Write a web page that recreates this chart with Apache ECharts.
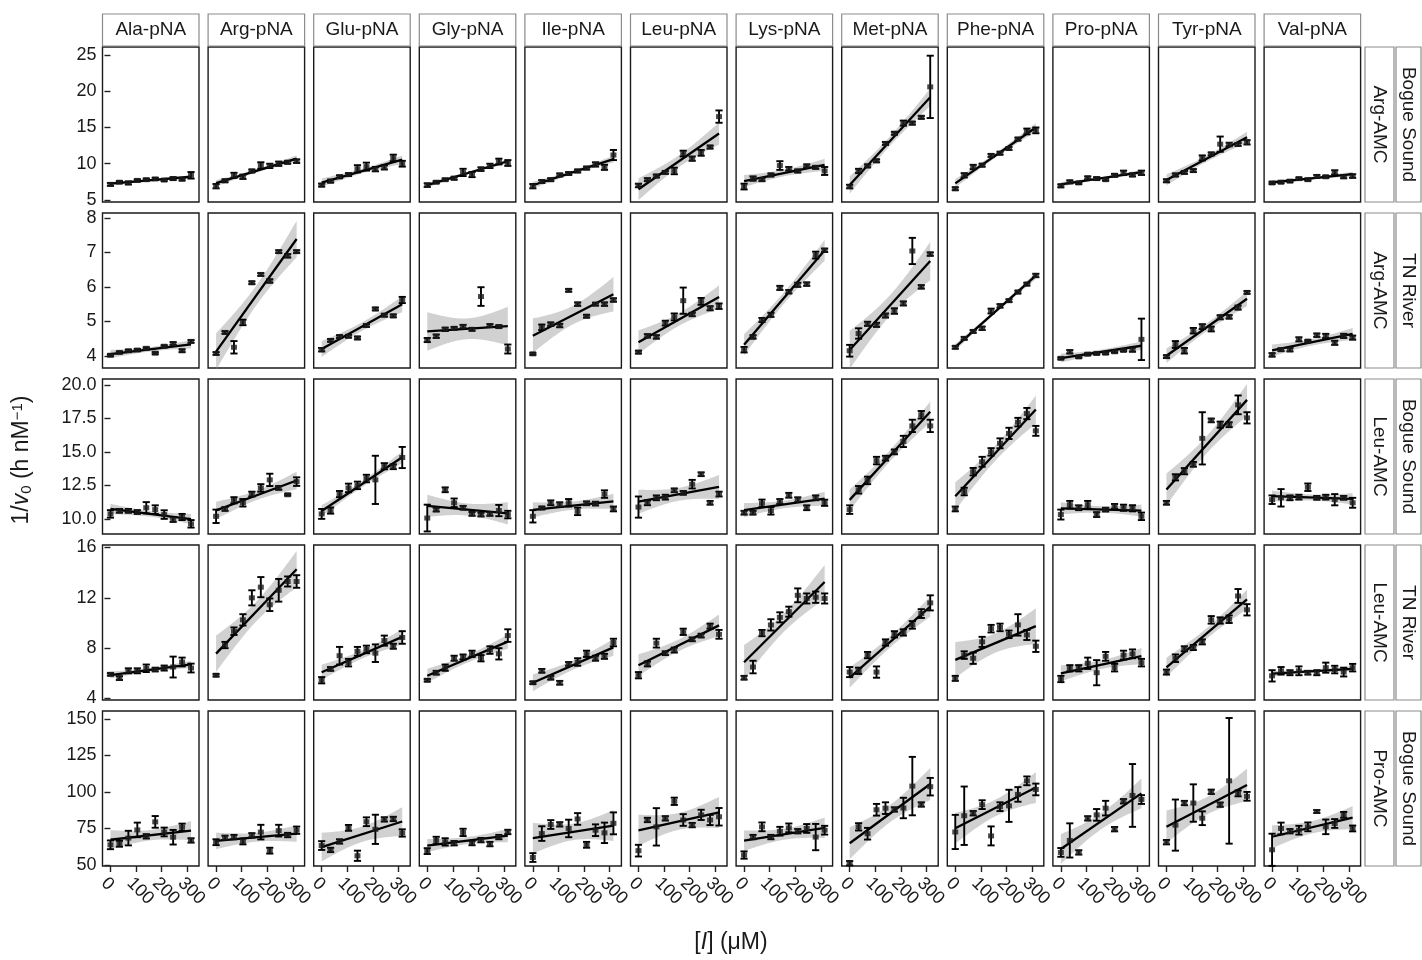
<!DOCTYPE html>
<html><head><meta charset="utf-8">
<script src="https://cdn.jsdelivr.net/npm/echarts@6/dist/echarts.min.js"></script>
<style>html,body{margin:0;padding:0;background:#fff}#c{width:1422px;height:960px}</style>
</head><body><div id="c"></div>
<script>
// ---------------- data ----------------
const substrates = ['Ala-pNA','Arg-pNA','Glu-pNA','Gly-pNA','Ile-pNA','Leu-pNA','Lys-pNA','Met-pNA','Phe-pNA','Pro-pNA','Tyr-pNA','Val-pNA'];
const rowEnzymes = ['Arg-AMC','Arg-AMC','Leu-AMC','Leu-AMC','Pro-AMC'];
const rowSites = ['Bogue Sound','TN River','Bogue Sound','TN River','Bogue Sound'];
const conc = [0,35,70,105,140,175,210,245,280,315];
const xTicks = [0,100,200,300];
const yTicksRow1 = [5,10,15,20,25];
const yTicksRow2 = [4,5,6,7,8];
const yTicksRow3 = [10,12.5,15,17.5,20];
const yTicksRow4 = [4,8,12,16];
const yTicksRow5 = [50,75,100,125,150];

// Row 1: Arg-AMC, Bogue Sound (means, sd) — one array per substrate column
const meanArgBogue = [
 [7.15,7.45,7.35,7.7,7.8,7.9,7.75,7.95,7.85,8.4],
 [6.9,7.65,8.4,8.2,9.0,9.75,9.7,10.0,10.2,10.35],
 [7.05,7.6,8.2,8.5,9.3,9.6,9.25,9.5,10.8,10.0],
 [7.05,7.45,7.8,8.0,8.8,8.5,9.25,9.7,10.3,10.1],
 [6.9,7.55,7.8,8.45,8.65,9.0,9.4,9.9,9.5,11.2],
 [7.0,7.8,8.3,8.8,9.0,11.4,10.7,11.5,12.3,16.5],
 [6.85,7.95,7.8,8.45,9.75,9.3,9.0,9.7,9.5,9.0],
 [6.85,9.0,9.7,10.4,12.8,14.2,15.6,15.6,16.4,20.6],
 [6.55,8.4,9.55,9.8,11.15,11.45,12.1,13.4,14.45,14.6],
 [6.95,7.5,7.35,8.05,7.95,7.8,8.4,8.75,8.45,8.75],
 [7.65,8.45,8.8,9.05,10.8,11.35,12.7,12.65,12.65,12.95],
 [7.35,7.45,7.6,7.95,7.8,8.25,8.2,8.8,8.2,8.3]
];
const sdArgBogue = [
 [0.2,0.15,0.2,0.15,0.15,0.15,0.15,0.2,0.15,0.45],
 [0.3,0.2,0.35,0.3,0.2,0.45,0.3,0.3,0.2,0.25],
 [0.2,0.2,0.2,0.2,0.5,0.55,0.3,0.3,0.45,0.4],
 [0.25,0.15,0.15,0.2,0.5,0.35,0.25,0.3,0.4,0.4],
 [0.3,0.2,0.2,0.2,0.2,0.2,0.2,0.3,0.35,0.7],
 [0.25,0.2,0.2,0.2,0.45,0.4,0.3,0.4,0.2,0.85],
 [0.4,0.3,0.2,0.2,0.6,0.25,0.2,0.2,0.2,0.55],
 [0.25,0.3,0.2,0.2,0.2,0.2,0.35,0.2,0.2,4.3],
 [0.2,0.3,0.3,0.2,0.2,0.2,0.2,0.2,0.4,0.4],
 [0.2,0.2,0.15,0.2,0.2,0.15,0.2,0.3,0.2,0.3],
 [0.2,0.2,0.2,0.2,0.35,0.2,1.05,0.25,0.2,0.3],
 [0.15,0.15,0.15,0.15,0.15,0.2,0.15,0.3,0.2,0.25]
];
// Row 2: Arg-AMC, TN River
const meanArgTN = [
 [4.02,4.1,4.15,4.17,4.22,4.08,4.28,4.36,4.15,4.42],
 [4.07,4.68,4.25,4.97,6.12,6.36,6.17,7.02,6.9,7.02],
 [4.18,4.45,4.56,4.57,4.52,4.88,5.36,5.18,5.16,5.62],
 [4.46,4.57,4.77,4.8,4.85,4.77,5.72,4.88,4.85,4.2],
 [4.06,4.83,4.92,4.88,5.9,5.5,5.15,5.5,5.5,5.62],
 [4.11,4.58,4.55,4.95,5.13,5.6,5.2,5.58,5.38,5.44],
 [4.18,4.55,5.04,5.19,5.97,5.86,6.06,6.08,6.92,7.06],
 [4.15,4.65,4.93,4.9,5.17,5.3,5.52,7.04,6.0,6.95],
 [4.25,4.51,4.71,4.8,5.3,5.45,5.6,5.85,6.08,6.33],
 [3.93,4.12,3.97,4.05,4.07,4.08,4.12,4.16,4.18,4.48],
 [3.98,4.33,4.15,4.73,4.85,4.78,5.12,5.13,5.4,5.84],
 [4.03,4.18,4.18,4.48,4.43,4.6,4.58,4.38,4.58,4.53]
];
const sdArgTN = [
 [0.03,0.03,0.03,0.03,0.03,0.03,0.03,0.04,0.04,0.04],
 [0.04,0.04,0.18,0.08,0.04,0.04,0.05,0.04,0.05,0.04],
 [0.05,0.04,0.04,0.04,0.04,0.04,0.04,0.04,0.04,0.09],
 [0.06,0.05,0.05,0.04,0.05,0.04,0.27,0.04,0.04,0.13],
 [0.03,0.08,0.05,0.05,0.04,0.05,0.04,0.04,0.05,0.05],
 [0.04,0.05,0.05,0.07,0.1,0.38,0.05,0.1,0.06,0.08],
 [0.08,0.05,0.06,0.06,0.06,0.05,0.06,0.05,0.1,0.05],
 [0.17,0.15,0.06,0.06,0.06,0.08,0.06,0.38,0.05,0.05],
 [0.04,0.04,0.04,0.05,0.07,0.05,0.04,0.04,0.04,0.05],
 [0.03,0.05,0.03,0.03,0.03,0.03,0.03,0.03,0.06,0.6],
 [0.04,0.1,0.08,0.08,0.07,0.07,0.06,0.05,0.06,0.04],
 [0.05,0.04,0.05,0.06,0.03,0.05,0.06,0.06,0.06,0.06]
];
// Row 3: Leu-AMC, Bogue Sound
const meanLeuBogue = [
 [10.38,10.61,10.61,10.52,10.84,10.7,10.33,9.96,10.15,9.64],
 [10.2,10.75,11.4,11.21,11.86,12.32,12.92,12.32,11.81,12.79],
 [10.38,10.63,11.86,12.32,12.51,13.02,12.92,13.94,13.9,14.59],
 [10.07,10.7,12.18,11.21,10.84,10.38,10.33,10.38,10.63,10.33],
 [10.2,10.82,11.21,11.07,11.21,10.57,11.17,11.15,11.86,10.75],
 [10.89,11.21,11.58,11.63,12.14,11.95,12.6,13.34,11.21,11.86],
 [10.47,10.47,11.17,10.61,11.31,11.77,11.44,10.84,11.58,11.21],
 [10.7,12.18,12.88,14.36,14.54,15.01,15.79,16.95,17.78,16.95],
 [10.75,12.05,13.53,14.27,15.01,15.65,16.39,17.23,17.87,16.58],
 [10.33,11.07,10.84,11.07,10.33,10.7,10.94,10.84,10.8,10.2],
 [11.21,13.11,13.57,14.08,16.02,17.36,17.04,17.04,18.52,17.55],
 [11.44,11.58,11.58,11.63,12.37,11.58,11.63,11.44,11.58,11.21]
];
const sdLeuBogue = [
 [0.28,0.14,0.14,0.14,0.42,0.32,0.32,0.18,0.23,0.28],
 [0.5,0.14,0.23,0.28,0.18,0.28,0.46,0.14,0.07,0.32],
 [0.37,0.23,0.23,0.32,0.28,0.28,1.8,0.23,0.18,0.79],
 [1.0,0.14,0.18,0.32,0.14,0.14,0.14,0.14,0.42,0.28],
 [0.46,0.1,0.18,0.18,0.28,0.28,0.14,0.14,0.28,0.18],
 [0.79,0.18,0.18,0.18,0.14,0.14,0.32,0.14,0.14,0.18],
 [0.14,0.14,0.28,0.28,0.18,0.18,0.18,0.18,0.18,0.23],
 [0.32,0.28,0.28,0.28,0.18,0.18,0.42,0.46,0.28,0.46],
 [0.18,0.28,0.28,0.37,0.28,0.37,0.42,0.32,0.42,0.37],
 [0.37,0.28,0.18,0.28,0.18,0.14,0.18,0.23,0.23,0.28],
 [0.14,0.23,0.23,0.18,1.95,0.14,0.23,0.18,0.7,0.42],
 [0.32,0.65,0.18,0.18,0.28,0.14,0.18,0.42,0.14,0.37]
];
// Row 4: Leu-AMC, TN River
const meanLeuTN = [
 [5.92,5.62,6.2,6.2,6.4,6.3,6.42,6.5,6.9,6.42],
 [5.85,8.25,9.35,10.25,12.0,12.85,11.45,12.6,13.3,13.3],
 [5.45,6.35,7.4,6.85,7.75,7.9,7.6,8.6,8.15,8.85],
 [5.45,6.05,6.45,7.2,7.3,7.55,7.2,7.85,7.55,9.0],
 [5.25,6.2,5.65,5.25,6.75,6.9,7.55,7.2,7.35,8.45],
 [5.85,6.75,8.4,7.6,7.85,9.3,8.7,9.0,9.75,9.1],
 [5.65,6.5,9.2,9.85,10.45,10.9,12.2,11.95,12.05,11.95],
 [6.1,6.2,7.45,6.1,8.45,9.1,9.25,9.85,10.75,11.6],
 [5.6,7.45,7.2,8.5,9.55,9.65,9.1,9.85,9.05,8.15],
 [5.55,6.4,6.4,6.8,6.05,7.35,6.45,7.45,7.55,6.85],
 [6.1,7.2,7.95,8.05,8.5,10.25,10.2,10.3,12.15,11.05],
 [5.8,6.2,6.05,6.2,6.05,6.05,6.45,6.3,6.1,6.45]
];
const sdLeuTN = [
 [0.1,0.15,0.2,0.2,0.3,0.15,0.2,0.83,0.35,0.35],
 [0.1,0.25,0.3,0.45,0.6,0.8,0.5,0.9,0.4,0.5],
 [0.25,0.15,0.7,0.3,0.35,0.3,0.7,0.4,0.2,0.5],
 [0.1,0.15,0.25,0.2,0.2,0.25,0.25,0.3,0.45,0.5],
 [0.1,0.15,0.15,0.15,0.15,0.3,0.25,0.2,0.2,0.3],
 [0.25,0.2,0.35,0.15,0.2,0.25,0.15,0.15,0.2,0.35],
 [0.15,0.5,0.25,0.45,0.4,0.4,0.55,0.4,0.45,0.4],
 [0.4,0.25,0.25,0.45,0.25,0.25,0.25,0.3,0.35,0.6],
 [0.2,0.3,0.45,0.4,0.3,0.3,0.3,0.85,0.4,0.45],
 [0.25,0.25,0.25,0.45,1.0,0.35,0.3,0.35,0.35,0.3],
 [0.2,0.3,0.2,0.2,0.2,0.3,0.25,0.3,0.55,0.45],
 [0.45,0.3,0.2,0.35,0.15,0.2,0.4,0.3,0.35,0.3]
];
// Row 5: Pro-AMC, Bogue Sound
const meanProBogue = [
 [63.8,64.5,68.4,74.0,69.6,79.5,72.6,69.0,75.8,66.8],
 [65.6,68.6,69.1,66.1,70.3,72.5,59.8,73.5,70.5,73.8],
 [63.3,60.3,66.1,75.4,56.3,79.6,74.4,81.2,81.5,71.9],
 [59.5,66.8,65.8,64.9,72.3,65.0,67.0,64.3,69.1,72.6],
 [55.1,71.5,77.7,77.8,75.0,81.5,63.8,73.8,72.0,78.5],
 [59.8,80.8,76.1,81.9,93.6,80.8,77.3,84.3,80.8,83.0],
 [56.8,69.1,76.1,69.1,73.1,75.4,73.1,75.0,69.1,73.8],
 [51.2,76.1,71.4,87.8,88.9,88.0,89.0,104.0,91.4,103.6],
 [72.6,83.7,85.4,91.3,69.9,89.9,90.5,98.3,107.6,101.7],
 [58.6,66.8,58.6,81.9,84.3,88.9,74.5,93.6,97.6,94.8],
 [65.6,77.3,92.4,92.4,82.0,100.1,91.3,107.6,99.0,97.0],
 [60.4,75.0,73.1,73.8,76.1,86.6,76.1,78.4,84.3,75.0]
];
const sdProBogue = [
 [3,2,5,5,1.5,4,3,5,2.5,1.5],
 [2,1.5,1.5,2,1.5,5,2,4,1.5,2.5],
 [3,1.5,1.5,2,3.5,3,10,1.5,1.5,2.5],
 [2,2.5,2.5,1.5,2.5,1.5,1.5,1.5,1.5,1.5],
 [3,5,3,1.5,6,4,2,4,7,7.5],
 [4,1.5,12.8,1.5,2.5,4,1.5,3.5,3.5,6],
 [2.5,1.5,3,1.5,3,3,1.5,3,9,3],
 [1.5,2.5,4,4,4,1.5,7,20,1.5,6],
 [11.7,20,1.5,3,6.5,3,11,5,3,4],
 [3,11.7,1.5,1.5,4,5,1.5,1.5,21.5,3],
 [1.5,17.5,1.5,12.8,4.7,1.5,1.5,43,2,3],
 [11,4,1.5,3,3,1,5,3,2,2]
];

// ---------------- layout / styles ----------------
const rowMeans = [meanArgBogue, meanArgTN, meanLeuBogue, meanLeuTN, meanProBogue];
const rowSds = [sdArgBogue, sdArgTN, sdLeuBogue, sdLeuTN, sdProBogue];
const rowTicks = [yTicksRow1, yTicksRow2, yTicksRow3, yTicksRow4, yTicksRow5];
const rowRange = [[4.72,26.1],[3.65,8.14],[8.88,20.45],[3.88,16.2],[49.3,155.4]];
const X_MIN = -31.15, X_MAX = 346.15, CAP = 14;
const L0 = 102.5, LSTEP = 105.6, PW = 96.5;
const T0 = 47, TSTEP = 166, PH = 155;
const FONT = "'Liberation Sans', Arial, Helvetica, sans-serif";
const TXT = '#1a1a1a';

function lmFit(xs, ys) {
  const n = xs.length;
  const xb = xs.reduce((a,b)=>a+b,0)/n, yb = ys.reduce((a,b)=>a+b,0)/n;
  let sxx=0, sxy=0;
  for (let i=0;i<n;i++){ sxx+=(xs[i]-xb)**2; sxy+=(xs[i]-xb)*(ys[i]-yb); }
  const b = sxy/sxx, a = yb - b*xb;
  let sse=0; for (let i=0;i<n;i++){ const r = ys[i]-(a+b*xs[i]); sse+=r*r; }
  const s = Math.sqrt(sse/(n-2));
  const t = 2.306; // t(0.975, df = 8)
  const xmin = Math.min(...xs), xmax = Math.max(...xs);
  const band = [];
  for (let k=0;k<=80;k++){
    const x = xmin + (xmax-xmin)*k/80;
    const yh = a + b*x;
    const se = s*Math.sqrt(1/n + (x-xb)**2/sxx);
    band.push([x, yh - t*se, yh + t*se]);
  }
  return {a, b, band, xmin, xmax};
}

const grids=[], xAxes=[], yAxes=[], series=[];
for (let j=0;j<5;j++){
  for (let i=0;i<12;i++){
    const k = j*12+i;
    const ys = rowMeans[j][i], sds = rowSds[j][i];
    grids.push({left: L0+LSTEP*i, top: T0+TSTEP*j, width: PW, height: PH,
      show: true, borderColor: '#1a1a1a', borderWidth: 1.4, backgroundColor: '#fff', containLabel: false});
    xAxes.push({type:'value', gridIndex:k, min:X_MIN, max:X_MAX,
      axisLine:{show:false}, splitLine:{show:false},
      axisTick:{show:j===4, customValues:xTicks, length:6, lineStyle:{color:'#222', width:1.4}},
      axisLabel:{show:j===4, customValues:xTicks, rotate:-45, fontSize:18, color:TXT, fontFamily:FONT,
        margin:8, align:'left', verticalAlign:'top'}});
    yAxes.push({type:'value', gridIndex:k, min:rowRange[j][0], max:rowRange[j][1],
      axisLine:{show:false}, splitLine:{show:false},
      axisTick:{show:i===0, customValues:rowTicks[j], length:6, lineStyle:{color:'#222', width:1.4}},
      axisLabel:{show:i===0, customValues:rowTicks[j], fontSize:18, color:TXT, fontFamily:FONT, margin:6,
        formatter: (v)=> j===2 ? Number(v).toFixed(1) : String(v)}});
    const fit = lmFit(conc, ys);
    // confidence band
    series.push({type:'custom', xAxisIndex:k, yAxisIndex:k, silent:true, clip:false, z:1,
      data:[[fit.xmin, fit.a]],
      renderItem:(params, api)=>{
        if (params.dataIndex!==0) return null;
        const up = fit.band.map(p=>api.coord([p[0], p[2]]));
        const dn = fit.band.slice().reverse().map(p=>api.coord([p[0], p[1]]));
        return {type:'polygon', shape:{points: up.concat(dn)}, style:{fill:'rgba(153,153,153,0.45)', stroke:null}};
      }});
    // fitted line
    series.push({type:'line', xAxisIndex:k, yAxisIndex:k, silent:true, z:3,
      data:[[fit.xmin, fit.a+fit.b*fit.xmin],[fit.xmax, fit.a+fit.b*fit.xmax]],
      showSymbol:false, symbol:'none', lineStyle:{color:'#000', width:2.3}});
    // error bars
    series.push({type:'custom', xAxisIndex:k, yAxisIndex:k, silent:true, clip:false, z:4,
      data: conc.map((x,n)=>[x, ys[n], sds[n]]),
      renderItem:(params, api)=>{
        const x = api.value(0), m = api.value(1), s = api.value(2);
        const top = api.coord([x, m+s]), bot = api.coord([x, m-s]);
        const tl = api.coord([x-CAP, m+s]), tr = api.coord([x+CAP, m+s]);
        const bl = api.coord([x-CAP, m-s]), br = api.coord([x+CAP, m-s]);
        const st = {stroke:'#000', lineWidth:1.9};
        return {type:'group', children:[
          {type:'line', shape:{x1:top[0], y1:top[1], x2:bot[0], y2:bot[1]}, style:st},
          {type:'line', shape:{x1:tl[0], y1:tl[1], x2:tr[0], y2:tr[1]}, style:st},
          {type:'line', shape:{x1:bl[0], y1:bl[1], x2:br[0], y2:br[1]}, style:st}
        ]};
      }});
    // points
    series.push({type:'scatter', xAxisIndex:k, yAxisIndex:k, silent:true, z:5,
      data: conc.map((x,n)=>[x, ys[n]]), symbol:'rect', symbolSize:[6,5],
      itemStyle:{color:'#1c1c1c'}});
  }
}

// strips and titles
const graphics = [];
substrates.forEach((s,i)=>{
  graphics.push({type:'rect', shape:{x:L0+LSTEP*i, y:14, width:PW, height:32},
    style:{fill:'#fff', stroke:'#8c8c8c', lineWidth:1.2}});
  graphics.push({type:'text', x:L0+LSTEP*i+PW/2, y:30,
    style:{text:s, fontSize:19, fontFamily:FONT, fill:TXT, align:'center', verticalAlign:'middle'}});
});
for (let j=0;j<5;j++){
  const top = T0+TSTEP*j;
  graphics.push({type:'rect', shape:{x:1365, y:top, width:29, height:PH},
    style:{fill:'#fff', stroke:'#8c8c8c', lineWidth:1.2}});
  graphics.push({type:'rect', shape:{x:1396, y:top, width:25, height:PH},
    style:{fill:'#fff', stroke:'#8c8c8c', lineWidth:1.2}});
  graphics.push({type:'text', x:1379.5, y:top+PH/2, rotation:-Math.PI/2,
    style:{text:rowEnzymes[j], fontSize:19, fontFamily:FONT, fill:TXT, align:'center', verticalAlign:'middle'}});
  graphics.push({type:'text', x:1408.5, y:top+PH/2, rotation:-Math.PI/2,
    style:{text:rowSites[j], fontSize:19, fontFamily:FONT, fill:TXT, align:'center', verticalAlign:'middle'}});
}
graphics.push({type:'text', x:22, y:460, rotation:Math.PI/2,
  style:{text:'{n|1/}{i|v}{s|0}{n| (h nM}{p|−1}{n|)}', align:'center', verticalAlign:'middle',
    rich:{
      n:{fontSize:23, fontFamily:FONT, fill:TXT},
      i:{fontSize:23, fontFamily:FONT, fontStyle:'italic', fill:TXT},
      s:{fontSize:15, fontFamily:FONT, fill:TXT, verticalAlign:'bottom', padding:[9,0,0,0]},
      p:{fontSize:15, fontFamily:FONT, fill:TXT, verticalAlign:'top', padding:[0,0,9,0]}
    }}});
graphics.push({type:'text', x:731, y:943,
  style:{text:'{n|[}{i|I}{n|] (μM)}', align:'center', verticalAlign:'middle',
    rich:{
      n:{fontSize:23, fontFamily:FONT, fill:TXT},
      i:{fontSize:23, fontFamily:FONT, fontStyle:'italic', fill:TXT}
    }}});

const chart = echarts.init(document.getElementById('c'), null, {renderer:'canvas'});
chart.setOption({animation:false, backgroundColor:'#fff', grid:grids, xAxis:xAxes, yAxis:yAxes, series:series, graphic:graphics});
</script></body></html>
